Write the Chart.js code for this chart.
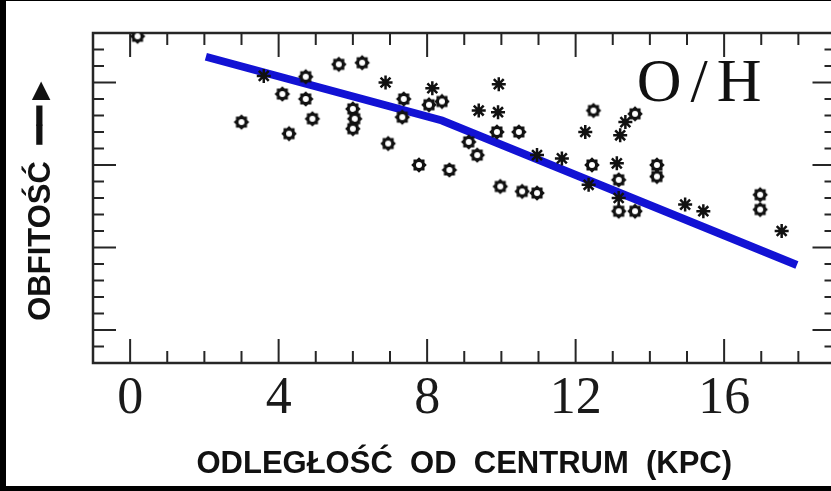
<!DOCTYPE html>
<html>
<head>
<meta charset="utf-8">
<script src="https://cdn.jsdelivr.net/npm/chart.js@4.4.1/dist/chart.umd.min.js"></script>
<style>
  html, body { margin: 0; padding: 0; background: #fff; overflow: hidden; }
  #wrap { position: relative; width: 831px; height: 491px; overflow: hidden; }
  canvas { position: absolute; left: 0; top: 0; }
  .edge { position: absolute; background: #000; }
</style>
</head>
<body>
<div id="wrap">
  <canvas id="chart" width="846" height="491"></canvas>
  <div class="edge" style="left:0;top:0;width:6px;height:491px"></div>
  <div class="edge" style="left:0;top:0;width:831px;height:1px"></div>
  <div class="edge" style="left:0;top:486px;width:831px;height:5px"></div>
</div>
<script>
// odległość od centrum (kpc) i obfitość
const ringX = [0.2, 5.62, 6.25, 4.73, 4.10, 4.73, 3.0, 4.91, 4.28, 6.0, 6.05, 6.0,
  7.37, 7.33, 6.95, 7.78, 8.6, 8.4, 8.05, 9.12, 9.35, 9.88, 10.47, 9.97, 10.56, 10.96,
  12.48, 13.6, 12.44, 13.16, 14.19, 14.19, 13.16, 13.6, 16.97, 16.97];
const ringY = [9.78, 9.61, 9.62, 9.535, 9.43, 9.40, 9.26, 9.28, 9.19, 9.34, 9.28, 9.22,
  9.40, 9.29, 9.13, 9.0, 8.97, 9.385, 9.365, 9.14, 9.06, 9.20, 9.20, 8.87, 8.84, 8.83,
  9.33, 9.31, 9.0, 8.91, 9.0, 8.93, 8.72, 8.72, 8.82, 8.73];

const starX = [3.6, 6.88, 8.14, 9.93, 9.39, 9.91, 10.96, 11.63, 12.26, 13.34, 13.2,
  13.11, 12.35, 13.16, 14.95, 15.44, 17.55];
const starY = [9.54, 9.50, 9.465, 9.49, 9.33, 9.32, 9.06, 9.04, 9.20, 9.26, 9.18,
  9.01, 8.88, 8.80, 8.76, 8.72, 8.60];

// linia gradientu
const fitX = [2.04, 8.4, 17.96];
const fitY = [9.656, 9.27, 8.394];

const xMajor = [0, 4, 8, 12, 16];

function toPoints(xs, ys) {
  return xs.map((x, i) => ({ x: x, y: ys[i] }));
}

// znacznik "kółko z ząbkami"
function makeRing() {
  const c = document.createElement("canvas");
  c.width = 18;
  c.height = 18;
  const g = c.getContext("2d");
  g.fillStyle = "#111";
  g.beginPath();
  for (let i = 0; i < 16; i++) {
    const a = (i * Math.PI) / 8;
    const r = i % 2 ? 6.0 : 7.8;
    const px = 9 + r * Math.cos(a);
    const py = 9 + r * Math.sin(a);
    if (i === 0) g.moveTo(px, py);
    else g.lineTo(px, py);
  }
  g.closePath();
  g.fill();
  g.fillStyle = "#fff";
  g.beginPath();
  g.arc(9, 9, 3.0, 0, Math.PI * 2);
  g.fill();
  return c;
}

// ramka i kreski podziałki do środka
const frameTicks = {
  id: "frameTicks",
  beforeDatasetsDraw(chart) {
    const { ctx, chartArea: a } = chart;
    const xs = chart.scales.x;
    const ys = chart.scales.y;
    ctx.save();
    ctx.strokeStyle = "#262626";
    ctx.lineWidth = 2;
    xs.ticks.forEach((t) => {
      if (t.value <= xs.min || t.value >= xs.max) return;
      const px = xs.getPixelForValue(t.value);
      const len = t.value % 4 === 0 ? 24 : 12;
      ctx.beginPath();
      ctx.moveTo(px, a.bottom);
      ctx.lineTo(px, a.bottom - len);
      ctx.moveTo(px, a.top);
      ctx.lineTo(px, a.top + len);
      ctx.stroke();
    });
    ys.ticks.forEach((t) => {
      const k = Math.round(t.value * 10);
      if (k <= 78 || k >= 98) return;
      const py = ys.getPixelForValue(t.value);
      const len = k % 5 === 0 ? 23 : 11;
      ctx.beginPath();
      ctx.moveTo(a.left, py);
      ctx.lineTo(a.left + len, py);
      ctx.moveTo(a.right, py);
      ctx.lineTo(a.right - len, py);
      ctx.stroke();
    });
    ctx.lineWidth = 2.5;
    ctx.strokeRect(a.left, a.top, a.right - a.left, a.bottom - a.top);
    ctx.restore();
  },
  afterDatasetsDraw(chart) {
    const { ctx } = chart;
    ctx.save();
    ctx.fillStyle = "#111";
    ctx.font = '62px "Liberation Serif"';
    ctx.textAlign = "center";
    ctx.textBaseline = "alphabetic";
    ctx.letterSpacing = "9px";
    ctx.fillText(
      "O/H",
      chart.scales.x.getPixelForValue(15.45),
      chart.scales.y.getPixelForValue(9.39)
    );
    ctx.restore();
  },
};

document.addEventListener("DOMContentLoaded", () => {
  const ctx = document.getElementById("chart").getContext("2d");
  new Chart(ctx, {
    type: "scatter",
    data: {
      datasets: [
        {
          label: "gwiazdki",
          data: toPoints(starX, starY),
          pointStyle: "star",
          pointRadius: 7,
          borderColor: "#111",
          borderWidth: 2.5,
          backgroundColor: "#111",
        },
        {
          label: "kółka",
          data: toPoints(ringX, ringY),
          pointStyle: makeRing(),
          pointRadius: 8,
        },
        {
          type: "line",
          label: "gradient",
          data: toPoints(fitX, fitY),
          borderColor: "#1212d4",
          borderWidth: 8,
          borderCapStyle: "butt",
          pointRadius: 0,
          fill: false,
          tension: 0,
        },
      ],
    },
    options: {
      responsive: false,
      animation: false,
      layout: { padding: { top: 33, right: 10.5, left: 0, bottom: 0 } },
      plugins: { legend: { display: false }, tooltip: { enabled: false } },
      scales: {
        x: {
          type: "linear",
          position: "bottom",
          min: -1,
          max: 19,
          grid: { display: false, drawTicks: false },
          border: { display: false },
          ticks: {
            stepSize: 1,
            autoSkip: false,
            maxRotation: 0,
            padding: 5,
            color: "#1a1a1a",
            font: { family: "Liberation Serif", size: 52 },
            callback: (v) => (xMajor.includes(v) ? String(v) : ""),
          },
          title: {
            display: true,
            text: "ODLEGŁOŚĆ  OD  CENTRUM  (KPC)",
            color: "#111",
            font: { family: "Liberation Sans", size: 31, weight: "bold" },
            padding: { top: 0, bottom: 8 },
          },
          afterFit(scale) {
            scale.height = 128;
          },
        },
        y: {
          type: "linear",
          min: 7.8,
          max: 9.8,
          grid: { display: false, drawTicks: false },
          border: { display: false },
          ticks: { stepSize: 0.1, display: false },
          title: {
            display: true,
            text: "OBFITOŚĆ  ━━►",
            color: "#111",
            font: { family: "Liberation Sans", size: 31, weight: "bold" },
            padding: { top: 23, bottom: 0 },
          },
          afterFit(scale) {
            scale.width = 93;
          },
        },
      },
    },
    plugins: [frameTicks],
  });
});
</script>
</body>
</html>
